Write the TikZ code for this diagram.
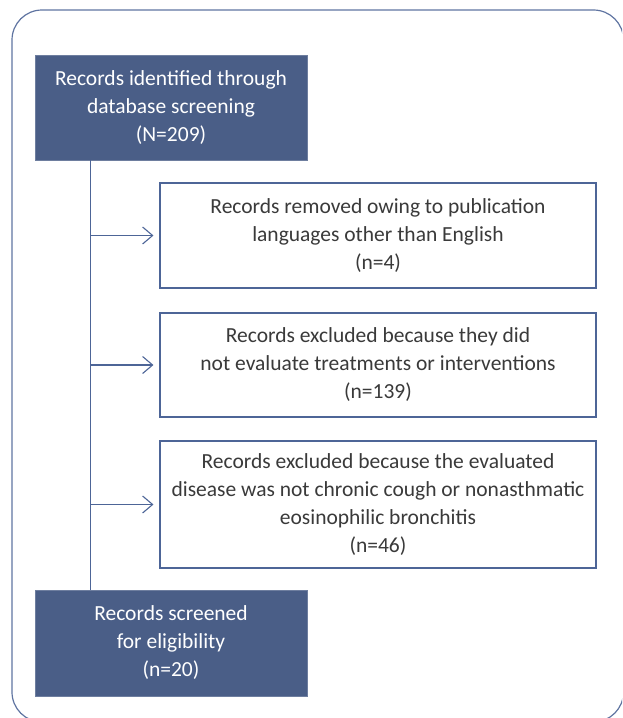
\documentclass[tikz,border=0pt]{standalone}
\usepackage{fontspec}
\setmainfont{Carlito}
\usetikzlibrary{arrows.meta,calc}
\definecolor{boxblue}{HTML}{4A5E87}
\definecolor{lineblue}{HTML}{4D6597}
\definecolor{textgray}{HTML}{3A3A3A}

\begin{document}
\begin{tikzpicture}[x=1pt, y=-1pt,
    darkbox/.style={fill=boxblue, draw=boxblue!80!white, text=white, align=center,
        minimum width=272pt, inner sep=0pt, font=\fontsize{21.5}{28}\selectfont},
    whitebox/.style={draw=lineblue, line width=1.1pt, fill=white, text=textgray, align=center,
        minimum width=436pt, inner sep=0pt, font=\fontsize{21.5}{28}\selectfont},
    link/.style={draw=lineblue, line width=1.1pt},
    tip/.style={link, -{Straight Barb[length=10pt,width=17pt,line width=1.1pt]}, shorten >=6pt}]
    \useasboundingbox (0,0) rectangle (622,718);
    \clip (0,0) rectangle (622,718);

    % the outer frame
    \draw[lineblue!90!white, line width=1.2pt, rounded corners=30pt] (12,10) rectangle (623.5,722);

    % the boxes
    \node[darkbox, minimum height=105pt] (found) at (171,107.5)
        {Records identified through\\database screening\\(N=209)};
    \node[whitebox, minimum height=105pt] (lang) at (378,235.5)
        {Records removed owing to publication\\languages other than English\\(n=4)};
    \node[whitebox, minimum height=104pt] (treat) at (378,365)
        {Records excluded because they did\\not evaluate treatments or interventions\\(n=139)};
    \node[whitebox, minimum height=127pt] (disease) at (378,504.5)
        {Records excluded because the evaluated\\disease was not chronic cough or nonasthmatic\\eosinophilic bronchitis\\(n=46)};
    \node[darkbox, minimum height=106pt] (screened) at (171,643)
        {Records screened\\for eligibility\\(n=20)};

    % the trunk line and the arrows off it
    \coordinate (trunk) at ($(found.south west)+(56,0)$);
    \draw[link] (trunk) -- (trunk |- screened.north);
    \draw[tip] (trunk |- lang.west) -- (lang.west);
    \draw[tip] (trunk |- treat.west) -- (treat.west);
    \draw[tip] (trunk |- disease.west) -- (disease.west);
\end{tikzpicture}
\end{document}
